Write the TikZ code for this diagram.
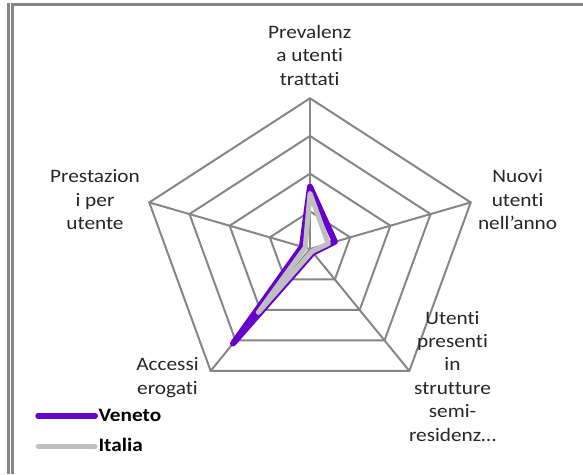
\documentclass[tikz,border=0pt]{standalone}
\usepackage{fontspec}
\setmainfont{Carlito}[FakeStretch=1.12, Ligatures={ResetAll,NoCommon}]
\definecolor{gridgray}{HTML}{868686}
\definecolor{veneto}{HTML}{6600CC}
\definecolor{italia}{HTML}{BFBFBF}
\tikzset{
  axislabel/.style={align=center, inner sep=0pt, anchor=base, text=black!85},
  ring/.style={draw=gridgray, line width=2pt, line join=miter},
  serie/.style={line width=#1, line join=round, line cap=round},
  legendtext/.style={anchor=base west, inner sep=0pt, font=\fontsize{19}{23.4}\selectfont\bfseries}
}
\begin{document}
\begin{tikzpicture}[x=1pt, y=1pt, font=\fontsize{19}{23.4}\selectfont]
\useasboundingbox (0,0) rectangle (583,474);
% cornice
\draw[gridgray, line width=2.6pt] (8.7,471) -- (8.7,0);
\draw[gridgray, line width=2.6pt] (12.7,0) -- (12.7,469.3) -- (583,469.3);

% griglia radar
\begin{scope}[shift={(310,225)}, x=169pt, y=150.7pt]
  \coordinate (centro) at (0,0);
  \foreach \a/\n in {90/prev, 18/nuovi, -54/pres, -126/acc, 162/prest}
    \coordinate (\n) at (\a:1);
  \foreach \r in {0.25,0.5,0.75,1}
    \draw[ring] (90:\r) -- (18:\r) -- (-54:\r) -- (-126:\r) -- (162:\r) -- cycle;
  \foreach \n in {prev, nuovi, pres, acc, prest}
    \draw[ring] (centro) -- (\n);
  % Veneto
  \draw[serie=6pt, veneto] (90:0.413) -- (18:0.155) -- (-54:0.03) -- (-126:0.775) -- (162:0.05) -- cycle;
  % Italia
  \draw[serie=5pt, italia] (90:0.37) -- (18:0.114) -- (-54:0.02) -- (-126:0.52) -- (162:0.03) -- cycle;
\end{scope}

% etichette assi (base = ultima riga)
\node[axislabel] (lprev) at (309.7,388.7) {Prevalenz\\a utenti\\trattati};
\node[axislabel] (lnuovi) at (517.6,244.5) {Nuovi\\utenti\\nell'anno};
\node[axislabel] (lpres) at (452.5,33) {Utenti\\presenti\\in\\strutture\\semi-\\residenz…};
\node[axislabel] (lacc) at (167.5,79.9) {Accessi\\erogati};
\node[axislabel] (lprest) at (95,244.5) {Prestazion\\i per\\utente};

% legenda
\draw[serie=6pt, veneto] (38.3,58.3) -- (95,58.3);
\node[legendtext] (lveneto) at (98.3,52.3) {Veneto};
\draw[serie=5pt, italia] (38.3,27.3) -- (95,27.3);
\node[legendtext] (litalia) at (98.3,22.3) {Italia};
\end{tikzpicture}
\end{document}
